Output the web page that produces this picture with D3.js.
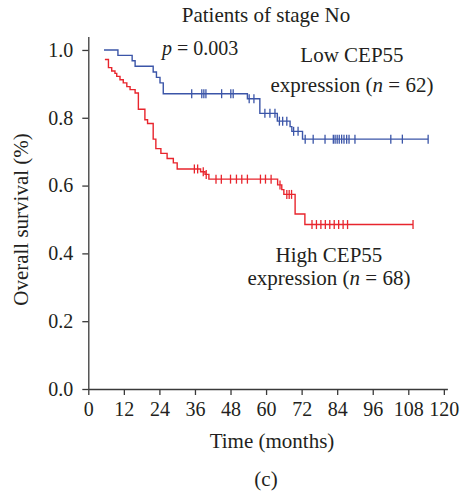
<!DOCTYPE html>
<html>
<head>
<meta charset="utf-8">
<script src="https://cdn.jsdelivr.net/npm/d3@7"></script>
<style>
  body { margin: 0; background: #fff; }
  svg { display: block; font-family: "Liberation Serif", "DejaVu Serif", serif; }
</style>
</head>
<body>
<svg id="chart"></svg>
<script>
// Kaplan-Meier steps: [months, survival]
const lowSteps = [
  [5.3, 1.0], [10.0, 0.984], [14.8, 0.968], [15.8, 0.952], [21.9, 0.935],
  [23.0, 0.919], [24.2, 0.903], [25.3, 0.871], [53.7, 0.856], [57.9, 0.813],
  [63.8, 0.79], [68.1, 0.774], [68.7, 0.76], [72.3, 0.737]
];
const lowEnd = 114.7;
const lowCensor = [34.9, 38.3, 39.0, 39.7, 45.0, 48.1, 48.9, 54.3, 55.9, 59.6,
  61.3, 63.0, 64.5, 65.6, 67.0, 69.3, 70.8, 73.2, 75.9, 79.9, 82.7, 83.3,
  84.0, 84.7, 85.5, 86.3, 87.2, 88.0, 90.0, 102.1, 106.0, 114.7];

const highSteps = [
  [5.6, 0.972], [6.8, 0.948], [7.9, 0.938], [9.0, 0.931], [9.6, 0.922],
  [10.7, 0.912], [11.8, 0.903], [13.0, 0.892], [14.1, 0.883], [15.8, 0.873],
  [16.9, 0.825], [19.1, 0.794], [20.0, 0.783], [21.9, 0.737], [22.8, 0.709],
  [24.5, 0.695], [26.6, 0.68], [28.7, 0.667], [30.0, 0.649], [37.9, 0.641],
  [39.4, 0.633], [40.7, 0.619], [63.9, 0.602], [65.3, 0.588], [66.0, 0.574],
  [69.8, 0.516], [73.1, 0.485]
];
const highEnd = 109.6;
const highCensor = [35.8, 36.9, 38.8, 39.8, 43.1, 44.9, 48.0, 50.0, 51.8, 53.7,
  58.1, 59.8, 61.7, 64.7, 67.0, 67.8, 68.6, 75.5, 77.0, 78.5, 80.0, 81.5,
  83.0, 84.5, 86.0, 87.5, 109.6];

const xTicks = [0, 12, 24, 36, 48, 60, 72, 84, 96, 108, 120];
const yTicks = [0, 0.2, 0.4, 0.6, 0.8, 1.0];

const width = 460, height = 494;
const svg = d3.select("#chart").attr("width", width).attr("height", height);

const x = d3.scaleLinear().domain([0, 121.2]).range([88.3, 447.4]);
const y = d3.scaleLinear().domain([0, 1.04]).range([389, 36.4]);

const axisColor = "#3a3a3a";
const blue = "#3b55a8";
const red = "#e8252d";

// axes
const xAxis = svg.append("g")
  .attr("transform", `translate(0, ${y(0)})`)
  .call(d3.axisBottom(x).tickValues(xTicks).tickSize(6).tickSizeOuter(0).tickPadding(7));
const yAxis = svg.append("g")
  .attr("transform", `translate(${x(0)}, 0)`)
  .call(d3.axisLeft(y).tickValues(yTicks).tickFormat(d3.format(".1f")).tickSize(6).tickSizeOuter(0).tickPadding(9));

[xAxis, yAxis].forEach((g) => {
  g.select(".domain").attr("stroke", axisColor).attr("stroke-width", 1.3);
  g.selectAll(".tick line").attr("stroke", axisColor).attr("stroke-width", 1.3);
  g.selectAll(".tick text")
    .attr("fill", "#231f20")
    .style("font-family", "'Liberation Serif', serif")
    .style("font-size", "20px");
});

// survival curves
const stepLine = d3.line()
  .x((d) => x(d[0]))
  .y((d) => y(d[1]))
  .curve(d3.curveStepAfter);

function survAt(steps, t) {
  let s = steps[0][1];
  steps.forEach((d) => { if (d[0] <= t) s = d[1]; });
  return s;
}

function drawCurve(steps, end, censor, color) {
  const pts = steps.concat([[end, steps[steps.length - 1][1]]]);
  svg.append("path")
    .datum(pts)
    .attr("fill", "none")
    .attr("stroke", color)
    .attr("stroke-width", 1.4)
    .attr("d", stepLine);
  svg.append("g")
    .selectAll("line")
    .data(censor)
    .join("line")
    .attr("x1", (d) => x(d))
    .attr("x2", (d) => x(d))
    .attr("y1", (d) => y(survAt(steps, d)) - 4.5)
    .attr("y2", (d) => y(survAt(steps, d)) + 4.5)
    .attr("stroke", color)
    .attr("stroke-width", 1.3);
}

drawCurve(lowSteps, lowEnd, lowCensor, blue);
drawCurve(highSteps, highEnd, highCensor, red);

// text
const txt = (tx, ty, size, anchor) => svg.append("text")
  .attr("x", tx).attr("y", ty)
  .attr("text-anchor", anchor || "middle")
  .attr("fill", "#231f20")
  .style("font-size", size + "px");

txt(266, 22, 21).text("Patients of stage No");

const p = txt(162, 55, 20, "start");
p.append("tspan").style("font-style", "italic").text("p");
p.append("tspan").text(" = 0.003");

txt(352, 62, 21).text("Low CEP55");
const l2 = txt(352, 92, 21);
l2.append("tspan").text("expression (");
l2.append("tspan").style("font-style", "italic").text("n");
l2.append("tspan").text(" = 62)");

txt(329, 262, 21).text("High CEP55");
const h2 = txt(329, 285, 21);
h2.append("tspan").text("expression (");
h2.append("tspan").style("font-style", "italic").text("n");
h2.append("tspan").text(" = 68)");

svg.append("text")
  .attr("transform", `translate(28, ${y(0.5)}) rotate(-90)`)
  .attr("text-anchor", "middle")
  .attr("fill", "#231f20")
  .style("font-size", "21px")
  .text("Overall survival (%)");

txt(272, 448, 21).text("Time (months)");
txt(266, 486, 21).text("(c)");
</script>
</body>
</html>
